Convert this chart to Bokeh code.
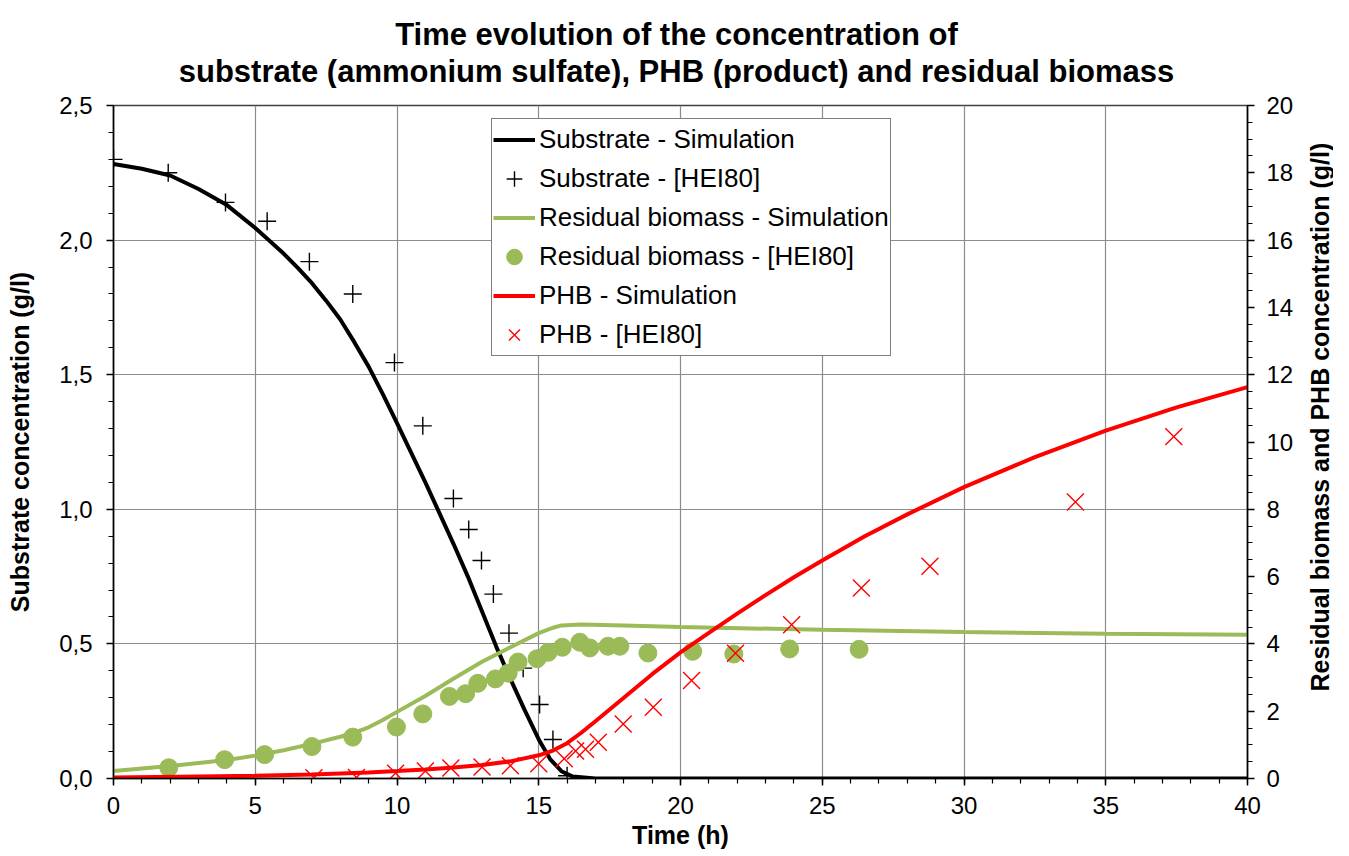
import math
from bokeh.plotting import figure
from bokeh.layouts import row, column
from bokeh.models import (Range1d, LinearAxis, FixedTicker, CustomJSTickFormatter,
                          Legend, LegendItem)
from bokeh.core.properties import value
from bokeh.embed import file_html
from bokeh.resources import INLINE

# ---------------- data ----------------
sub_sim_t = [0, 1, 2, 3, 4, 5, 6, 6.5, 7, 7.5, 8, 8.5, 9, 9.5, 10, 11, 12, 12.5, 13, 13.5, 14,
             14.5, 15, 15.4, 15.8, 16.2, 17, 20, 30, 40]
sub_sim = [2.283, 2.265, 2.24, 2.19, 2.13, 2.045, 1.95, 1.897, 1.84, 1.775, 1.705, 1.62, 1.53,
           1.428, 1.32, 1.10, 0.87, 0.75, 0.62, 0.49, 0.37, 0.255, 0.145, 0.072, 0.027, 0.007,
           0.0, 0.0, 0.0, 0.0]

sub_exp_t = [0, 1.93, 3.95, 5.42, 6.91, 8.44, 9.91, 10.91, 11.99, 12.53, 12.98, 13.4, 13.95,
             14.45, 15.03, 15.5, 16.0]
sub_exp = [2.30, 2.25, 2.14, 2.07, 1.92, 1.80, 1.545, 1.31, 1.04, 0.925, 0.81, 0.685, 0.54,
           0.41, 0.275, 0.145, 0.01]

bio_sim_t = [0, 2, 4, 5, 6, 7, 8, 8.5, 9, 9.5, 10, 11, 12, 13, 14, 15, 15.5, 15.8, 16.5, 18, 20,
             25, 30, 35, 40]
bio_sim = [0.22, 0.37, 0.55, 0.68, 0.84, 1.03, 1.24, 1.36, 1.52, 1.74, 1.98, 2.45, 2.97, 3.47,
           3.90, 4.32, 4.48, 4.55, 4.58, 4.55, 4.50, 4.42, 4.35, 4.30, 4.27]

bio_exp_t = [1.95, 3.92, 5.33, 7.0, 8.44, 9.98, 10.91, 11.85, 12.42, 12.85, 13.47, 13.92, 14.27,
             14.94, 15.33, 15.83, 16.45, 16.8, 17.44, 17.86, 18.85, 20.43, 21.88, 23.85, 26.3]
bio_exp = [0.32, 0.56, 0.71, 0.95, 1.23, 1.53, 1.92, 2.44, 2.52, 2.83, 2.96, 3.13, 3.46, 3.56,
           3.75, 3.90, 4.05, 3.88, 3.93, 3.93, 3.73, 3.78, 3.70, 3.85, 3.84]

phb_sim_t = [0, 3, 5, 7, 9, 10, 11, 12, 13, 14, 15, 15.5, 16, 16.5, 17, 18, 19, 20, 21, 22,
             23, 24, 25, 26.5, 28, 30, 32.5, 35, 37.5, 40]
phb_sim = [0.03, 0.06, 0.08, 0.12, 0.18, 0.22, 0.27, 0.33, 0.40, 0.51, 0.69, 0.83, 1.05, 1.36,
           1.70, 2.40, 3.10, 3.75, 4.33, 4.90, 5.45, 5.98, 6.48, 7.20, 7.85, 8.66, 9.55, 10.34,
           11.03, 11.63]

phb_exp_t = [7.07, 8.57, 9.95, 11.0, 11.9, 13.0, 14.0, 15.0, 15.9, 16.3, 16.65, 17.1, 17.98,
             19.04, 20.39, 21.94, 23.92, 26.38, 28.8, 33.93, 37.4]
phb_exp = [0.02, 0.03, 0.16, 0.22, 0.31, 0.34, 0.38, 0.44, 0.59, 0.82, 0.87, 1.08, 1.62, 2.12,
           2.91, 3.72, 4.57, 5.66, 6.31, 8.22, 10.16]

x_ticks = [0, 5, 10, 15, 20, 25, 30, 35, 40]
left_ticks = [0.0, 0.5, 1.0, 1.5, 2.0, 2.5]
right_ticks = [0, 2, 4, 6, 8, 10, 12, 14, 16, 18, 20]

title_line1 = "Time evolution of the concentration of"
title_line2 = "substrate (ammonium sulfate), PHB (product) and residual biomass"
right_label = "Residual biomass and PHB concentration (g/l)"

# ---------------- layout constants ----------------
FONT = "Liberation Sans"
GREEN = "#9BBB59"
RED = "#FF0000"
TOTAL_W = 1333
TITLE_H = 88
FW, FH = 1134, 673
BL, BR, BT, BB = 113, 50, 17, 70
MAIN_H = BT + FH + BB
SIDE_W = TOTAL_W - (BL + FW + BR)


def blank(fig):
    fig.axis.visible = False
    fig.grid.visible = False
    fig.outline_line_color = None
    fig.background_fill_color = "white"
    fig.border_fill_color = "white"


# ---------------- title panel (two centred lines) ----------------
head = figure(width=TOTAL_W, height=TITLE_H, x_range=Range1d(0, TOTAL_W),
              y_range=Range1d(0, TITLE_H), output_backend="svg", toolbar_location=None,
              min_border=0)
blank(head)
head.text(x=[676, 676], y=[TITLE_H - 34, TITLE_H - 71], text=[title_line1, title_line2],
          text_align="center", text_baseline="alphabetic", text_font=value(FONT),
          text_font_size="31px", text_font_style="bold", text_color="black")

# ---------------- main plot ----------------
p = figure(frame_width=FW, frame_height=FH,
           x_range=Range1d(0, 40), y_range=Range1d(0, 2.5),
           output_backend="svg", toolbar_location=None,
           min_border_left=BL, min_border_right=BR, min_border_top=BT, min_border_bottom=BB)
p.title.visible = False
p.extra_y_ranges = {"right": Range1d(0, 20)}
p.background_fill_color = "white"
p.border_fill_color = "white"
p.outline_line_color = "#404040"
p.outline_line_width = 1.5

xt = FixedTicker(ticks=x_ticks, minor_ticks=list(range(0, 41)))
lt = FixedTicker(ticks=left_ticks, minor_ticks=[i / 10 for i in range(26)])
rt = FixedTicker(ticks=right_ticks, minor_ticks=[i * 0.5 for i in range(41)])

right_axis = LinearAxis(y_range_name="right")
p.add_layout(right_axis, "right")

p.xaxis.ticker = xt
p.yaxis[0].ticker = lt
right_axis.ticker = rt
p.yaxis[0].formatter = CustomJSTickFormatter(code="return tick.toFixed(1).replace('.', ',');")

p.xaxis.axis_label = "Time (h)"
p.yaxis[0].axis_label = "Substrate concentration (g/l)"

for ax in [p.xaxis[0], p.yaxis[0], right_axis]:
    ax.axis_line_color = "black"
    ax.axis_line_width = 1.5
    ax.major_tick_line_color = "black"
    ax.minor_tick_line_color = "black"
    ax.major_tick_line_width = 1.5
    ax.minor_tick_line_width = 1.2
    ax.major_tick_out = 7
    ax.major_tick_in = 0
    ax.minor_tick_out = 5
    ax.minor_tick_in = 0
    ax.major_label_text_font = FONT
    ax.major_label_text_font_size = "24px"
    ax.major_label_text_color = "black"
    ax.axis_label_text_font = FONT
    ax.axis_label_text_font_size = "25px"
    ax.axis_label_text_font_style = "bold"
    ax.axis_label_text_color = "black"

p.xaxis.major_label_standoff = 11
p.xaxis.axis_label_standoff = 4
p.yaxis[0].major_label_standoff = 14
p.yaxis[0].axis_label_standoff = 22
right_axis.major_label_standoff = 12

p.xgrid.ticker = xt
p.ygrid.ticker = lt
for g in [p.xgrid[0], p.ygrid[0]]:
    g.grid_line_color = "#8c8c8c"
    g.grid_line_width = 1.2

r1 = p.line(sub_sim_t, sub_sim, line_color="black", line_width=4)
r2 = p.scatter(sub_exp_t, sub_exp, marker="cross", size=18, line_color="black", line_width=1.4)
r3 = p.line(bio_sim_t, bio_sim, line_color=GREEN, line_width=4, y_range_name="right")
r4 = p.scatter(bio_exp_t, bio_exp, marker="circle", size=18, fill_color=GREEN, line_color=GREEN,
               y_range_name="right")
r5 = p.line(phb_sim_t, phb_sim, line_color=RED, line_width=4, y_range_name="right")
r6 = p.scatter(phb_exp_t, phb_exp, marker="x", size=24, line_color=RED, line_width=1.4,
               y_range_name="right")

legend = Legend(items=[
    LegendItem(label="Substrate - Simulation", renderers=[r1]),
    LegendItem(label="Substrate - [HEI80]", renderers=[r2]),
    LegendItem(label="Residual biomass - Simulation", renderers=[r3]),
    LegendItem(label="Residual biomass - [HEI80]", renderers=[r4]),
    LegendItem(label="PHB - Simulation", renderers=[r5]),
    LegendItem(label="PHB - [HEI80]", renderers=[r6]),
], location=(378, 422))
legend.border_line_color = "black"
legend.border_line_width = 1
legend.background_fill_color = "white"
legend.background_fill_alpha = 1
legend.label_text_font = FONT
legend.label_text_font_size = "26px"
legend.label_text_color = "black"
legend.glyph_width = 42
legend.glyph_height = 39
legend.label_height = 39
legend.spacing = 0
legend.padding = 1
legend.margin = 0
legend.label_standoff = 4
p.add_layout(legend)

# ---------------- right-hand axis title (reads bottom-to-top) ----------------
side = figure(width=SIDE_W, height=MAIN_H, x_range=Range1d(0, SIDE_W),
              y_range=Range1d(0, MAIN_H), output_backend="svg", toolbar_location=None,
              min_border=0)
blank(side)
side.text(x=[SIDE_W - 14], y=[BB + FH / 2], text=[right_label], angle=math.pi / 2,
          text_align="center", text_baseline="middle", text_font=value(FONT),
          text_font_size="25px", text_font_style="bold", text_color="black")

layout = column(head, row(p, side, spacing=0), spacing=0)
open("out.html", "w").write(file_html(layout, INLINE))
